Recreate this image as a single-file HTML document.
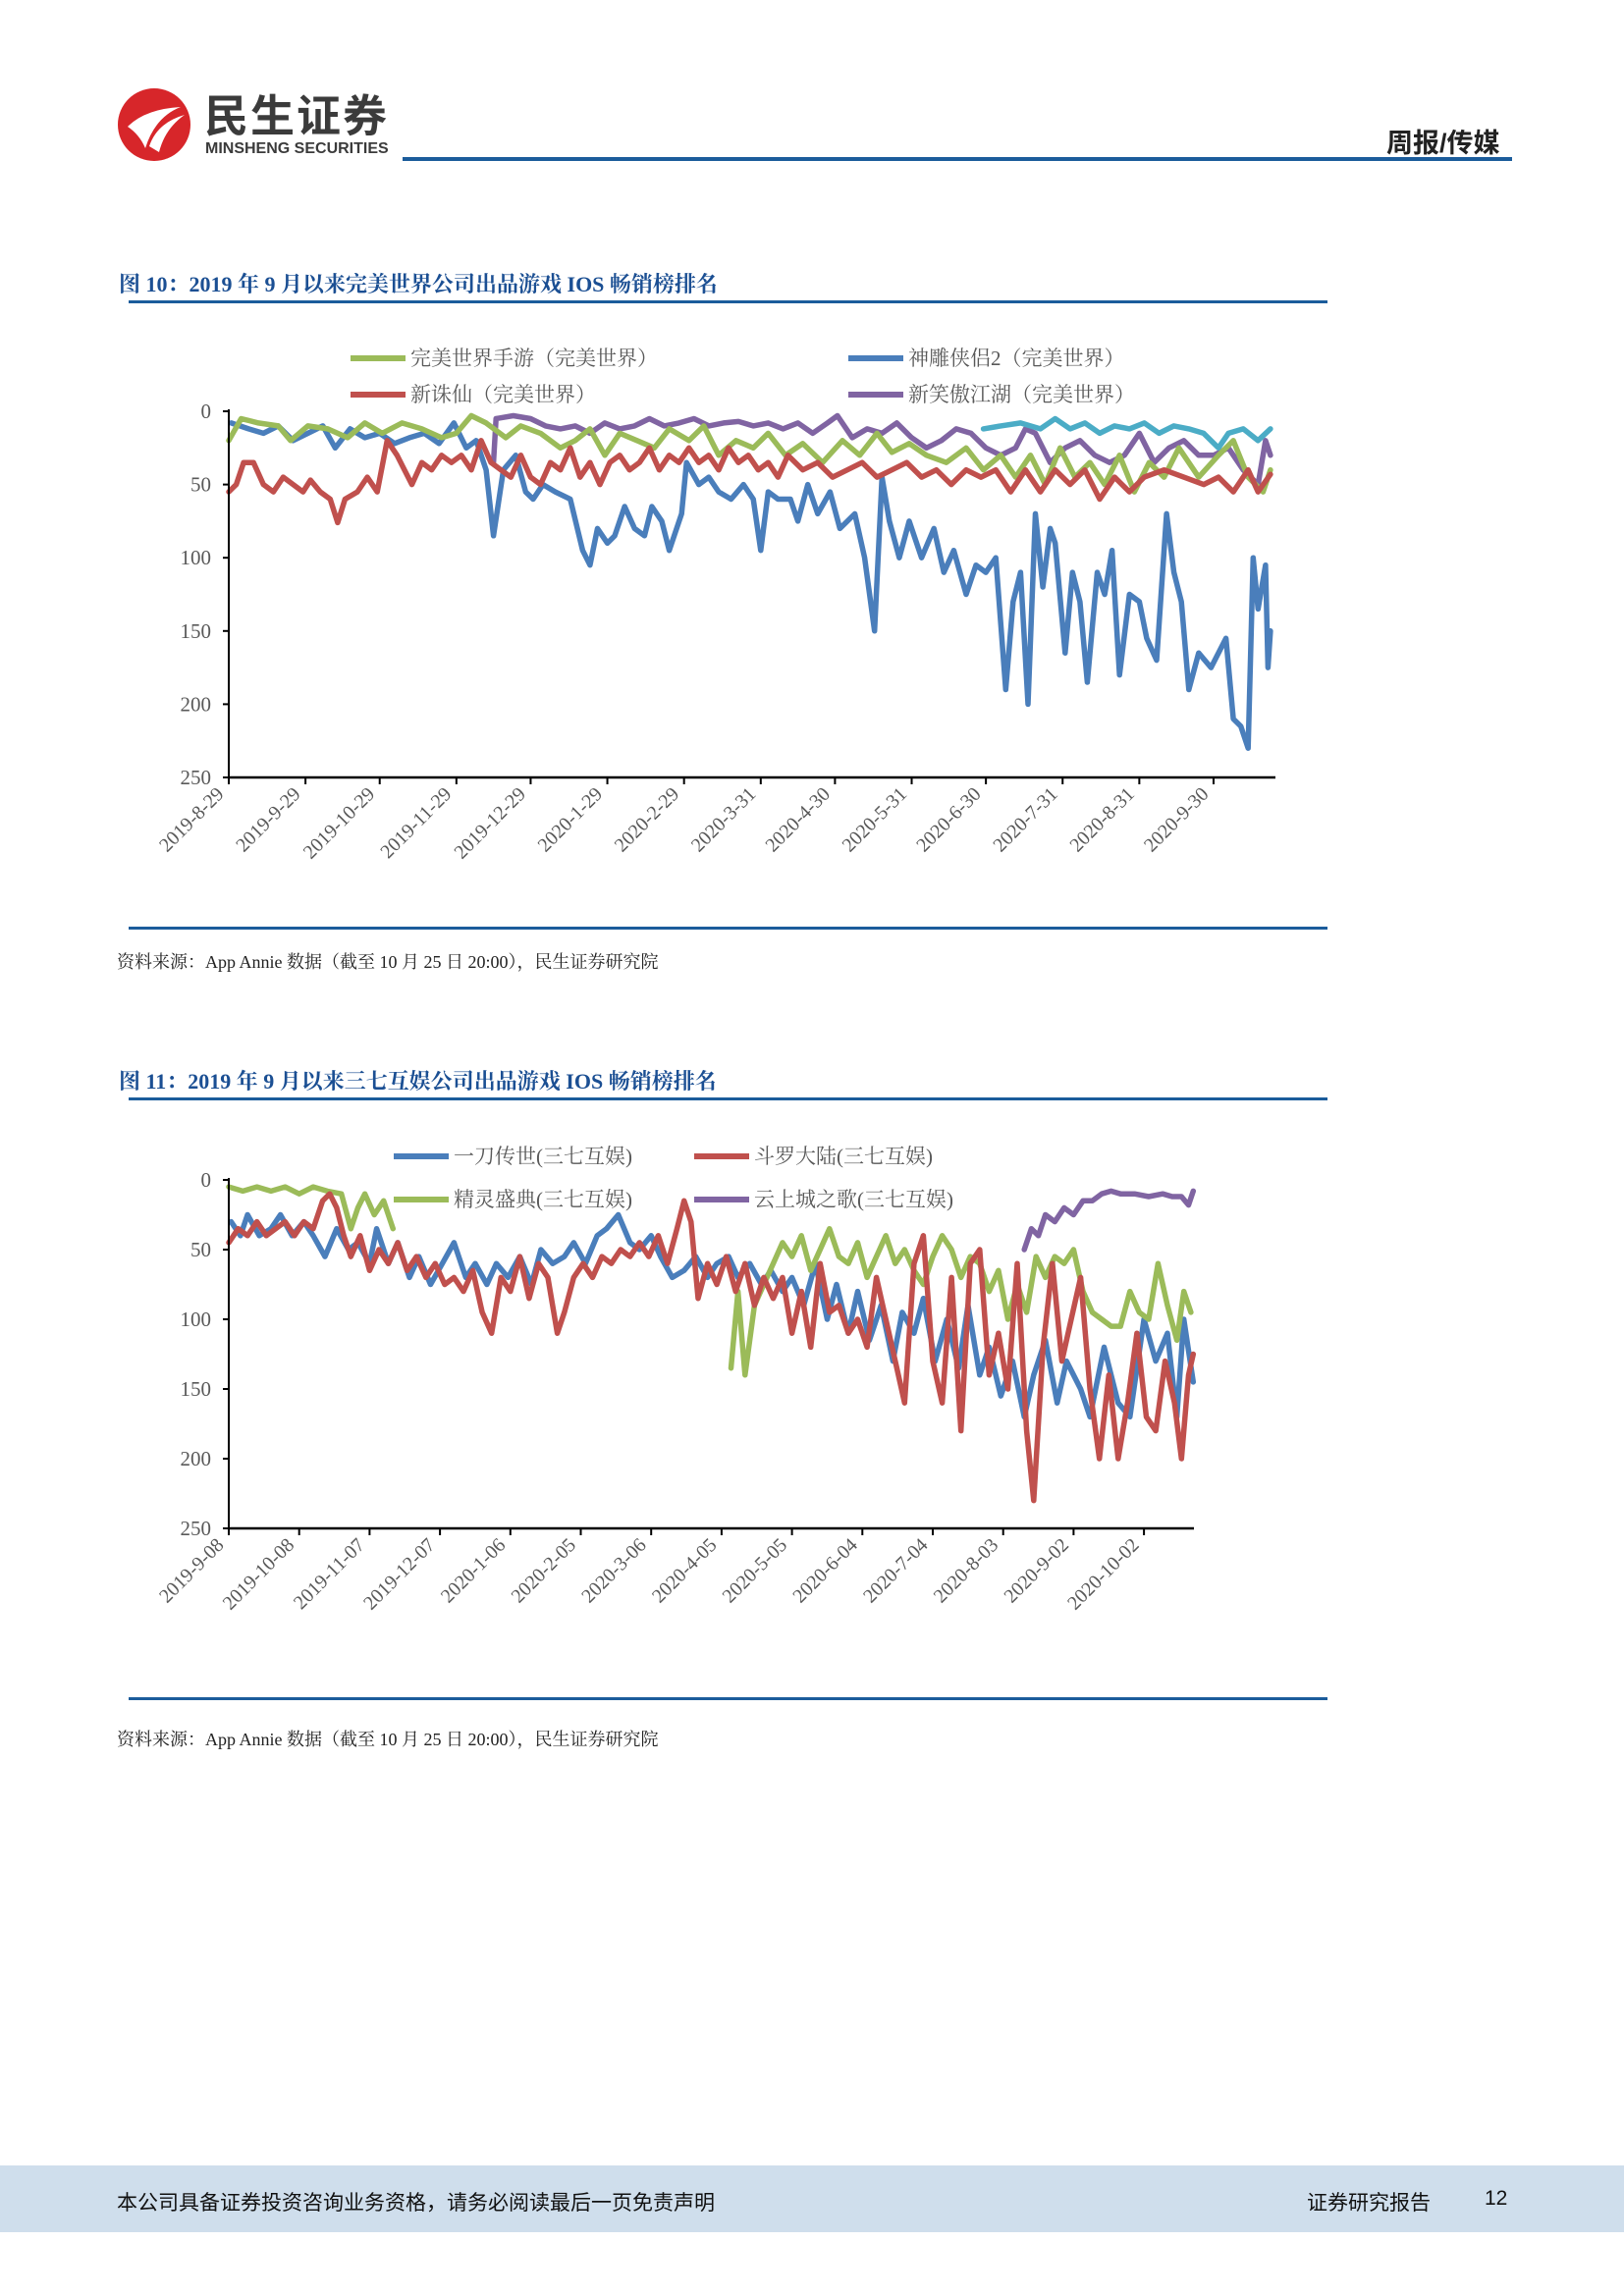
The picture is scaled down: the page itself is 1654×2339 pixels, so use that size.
<!DOCTYPE html>
<html><head><meta charset="utf-8">
<style>
html,body{margin:0;padding:0;background:#fff;}
body{width:1654px;height:2339px;position:relative;overflow:hidden;font-family:"Liberation Serif","Noto Serif CJK SC",serif;}
.abs{position:absolute;}
.title{position:absolute;left:121px;font-weight:bold;color:#1b4f93;font-size:22px;white-space:nowrap;}
.src{position:absolute;left:119px;font-size:18px;color:#222;white-space:nowrap;}
.hline{position:absolute;background:#1b5c9b;}
</style></head>
<body>
<div class="abs" style="left:0;top:0;width:1654px;height:170px;">
  <svg class="abs" style="left:118px;top:89px" width="80" height="80">
    <circle cx="39" cy="38" r="37" fill="#d7262a"/>
    <path d="M12 40 Q30 22 66 20 Q40 30 30 62 Q24 48 12 40Z" fill="#fff"/>
    <path d="M34 60 Q42 36 70 28 Q50 42 44 66Z" fill="#fff"/>
  </svg>
  <div class="abs" style="left:208px;top:96px;line-height:1;font-family:'Liberation Sans','Noto Sans CJK SC',sans-serif;font-weight:bold;font-size:45px;color:#3b3b3b;letter-spacing:2px;">民生证券</div>
  <div class="abs" style="left:209px;top:144px;line-height:1;font-family:'Liberation Sans',sans-serif;font-weight:bold;font-size:16px;color:#3b3b3b;">MINSHENG SECURITIES</div>
  <div class="hline" style="left:410px;top:160px;width:1130px;height:4px;"></div>
  <div class="abs" style="left:1412px;top:124px;font-family:'Liberation Sans','Noto Sans CJK SC',sans-serif;font-weight:bold;font-size:27px;color:#222;">周报/传媒</div>
</div>

<div class="title" style="top:273px;">图 10：2019 年 9 月以来完美世界公司出品游戏 IOS 畅销榜排名</div>
<div class="hline" style="left:131px;top:306px;width:1221px;height:3px;"></div>
<svg id="c1" class="abs" style="left:0;top:320px" width="1654" height="620"></svg>
<div class="hline" style="left:131px;top:944px;width:1221px;height:3px;"></div>
<div class="src" style="top:966px;">资料来源：App Annie 数据（截至 10 月 25 日 20:00），民生证券研究院</div>

<div class="title" style="top:1085px;">图 11：2019 年 9 月以来三七互娱公司出品游戏 IOS 畅销榜排名</div>
<div class="hline" style="left:131px;top:1118px;width:1221px;height:3px;"></div>
<svg id="c2" class="abs" style="left:0;top:1140px" width="1654" height="590"></svg>
<div class="hline" style="left:131px;top:1729px;width:1221px;height:3px;"></div>
<div class="src" style="top:1758px;">资料来源：App Annie 数据（截至 10 月 25 日 20:00），民生证券研究院</div>

<div class="abs" style="left:0;top:2206px;width:1654px;height:68px;background:#cfdeec;font-family:'Liberation Sans','Noto Sans CJK SC',sans-serif;font-size:21px;color:#111;">
  <div class="abs" style="left:119px;top:22px;">本公司具备证券投资咨询业务资格，请务必阅读最后一页免责声明</div>
  <div class="abs" style="left:1331px;top:22px;">证券研究报告</div>
  <div class="abs" style="left:1512px;top:22px;">12</div>
</div>

<script>
// ---------- Chart 1 data (day offset from 2019-8-29, rank) ----------
const c1Ticks = ["2019-8-29","2019-9-29","2019-10-29","2019-11-29","2019-12-29","2020-1-29","2020-2-29","2020-3-31","2020-4-30","2020-5-31","2020-6-30","2020-7-31","2020-8-31","2020-9-30"];
const c1YTicks = [0,50,100,150,200,250];
const c1GreenDays = [0,5,12,20,25,32,40,48,55,62,70,78,86,92,98,104,112,118,126,134,140,146,152,158,165,172,178,186,192,198,205,212,218,225,232,240,248,255,262,268,275,282,290,298,305,312,318,324,330,336,342,348,354,360,366,372,378,384,392,400,406,412,418,421];
const c1GreenVals = [20,5,8,10,20,10,12,18,8,15,8,12,18,15,3,8,18,10,15,25,20,12,30,15,20,25,12,20,10,30,20,25,15,30,22,35,20,30,15,28,22,30,35,25,40,30,45,30,50,25,45,35,50,30,55,35,45,25,45,30,20,45,55,40];
const c1BlueDays = [1,8,14,20,26,32,38,43,49,55,61,67,73,79,85,91,96,100,104,107,111,116,120,123,127,132,138,143,146,149,153,156,160,164,168,171,175,178,183,185,190,194,198,203,208,212,215,218,222,227,230,234,238,243,247,253,257,261,264,267,271,275,280,285,289,293,298,302,306,310,314,317,320,323,326,329,332,334,338,341,344,347,351,354,357,360,364,368,371,375,379,382,385,388,392,397,403,406,409,412,414,416,419,420,421];
const c1BlueVals = [8,12,15,10,20,15,10,25,12,18,15,22,18,15,22,8,25,20,40,85,40,30,55,60,50,55,60,95,105,80,90,85,65,80,85,65,75,95,70,35,50,45,55,60,50,60,95,55,60,60,75,50,70,55,80,70,100,150,45,75,100,75,100,80,110,95,125,105,110,100,190,130,110,200,70,120,80,90,165,110,130,185,110,125,95,180,125,130,155,170,70,110,130,190,165,175,155,210,215,230,100,135,105,175,150];
const c1RedDays = [0,3,6,10,14,18,22,26,30,33,37,41,44,47,52,56,60,64,68,71,74,78,82,86,90,94,98,102,106,110,114,118,122,126,130,134,138,142,146,150,154,158,162,166,170,174,178,182,186,190,194,198,202,206,210,214,218,222,226,232,238,244,250,256,262,268,274,280,286,292,298,304,310,316,322,328,334,340,346,352,358,364,370,378,386,394,400,406,412,416,421];
const c1RedVals = [55,50,35,35,50,55,45,50,55,47,55,60,76,60,55,45,55,20,30,40,50,35,40,30,35,30,40,20,35,40,45,30,45,50,35,40,25,45,35,50,35,30,40,35,25,40,30,35,25,35,30,40,25,35,30,40,35,45,30,40,35,45,40,35,45,40,35,45,40,50,40,45,40,55,40,55,40,50,40,60,45,55,45,40,45,50,45,55,40,55,43];
const c1PurpleDays = [107,108,115,122,128,134,140,146,152,158,164,170,176,182,188,194,200,206,212,218,224,230,236,242,246,252,258,264,270,276,282,288,294,300,306,312,318,322,326,332,338,344,350,356,362,368,374,380,386,392,398,404,410,416,419,421];
const c1PurpleVals = [35,5,3,5,10,12,10,15,8,12,10,5,10,8,5,10,8,7,10,8,12,8,15,8,3,18,12,15,8,18,25,20,12,15,25,30,25,12,15,35,25,20,30,35,30,15,35,25,20,30,30,25,40,50,20,30];
const c1TealDays = [305,312,320,328,334,340,346,352,358,364,370,376,382,388,394,400,404,410,416,421];
const c1TealVals = [12,10,8,12,5,12,8,15,10,12,8,15,10,12,15,25,15,12,20,12];

// ---------- Chart 2 data (day offset from 2019-9-08, rank) ----------
const c2Ticks = ["2019-9-08","2019-10-08","2019-11-07","2019-12-07","2020-1-06","2020-2-05","2020-3-06","2020-4-05","2020-5-05","2020-6-04","2020-7-04","2020-8-03","2020-9-02","2020-10-02"];
const c2YTicks = [0,50,100,150,200,250];
const c2BlueDays = [1,5,8,13,18,22,27,32,36,41,46,51,55,60,63,68,72,77,81,86,91,96,101,105,110,114,119,124,129,133,138,143,147,152,157,161,166,171,175,180,184,189,194,199,204,208,213,217,222,227,231,236,240,245,250,255,259,264,268,273,278,283,287,292,296,301,306,311,315,320,324,329,334,339,343,348,353,357,363,367,373,379,384,390,395,400,404,407,411];
const c2BlueVals = [30,40,25,40,35,25,40,30,40,55,35,50,45,60,35,60,45,70,55,75,60,45,70,60,75,60,70,55,75,50,60,55,45,60,40,35,25,45,50,40,55,70,65,55,70,60,55,70,60,75,65,80,70,90,60,100,75,110,80,115,90,130,95,110,85,130,100,135,90,140,120,155,130,170,140,115,160,130,150,170,120,160,170,100,130,110,170,100,145];
const c2RedDays = [0,4,8,12,16,20,24,28,32,36,40,43,46,49,52,56,60,64,68,72,76,80,84,88,92,96,100,104,108,112,116,120,124,128,132,136,140,143,147,151,155,159,163,167,171,175,179,183,187,191,194,197,200,204,208,212,216,220,224,228,232,236,240,244,248,252,256,260,264,268,272,276,280,284,288,292,296,300,304,308,312,316,320,324,328,332,336,340,343,347,351,355,359,363,367,371,375,379,383,387,391,395,399,403,406,409,411];
const c2RedVals = [45,35,40,30,40,35,30,40,30,35,15,10,20,40,55,40,65,50,60,45,65,55,70,60,75,70,80,65,95,110,70,80,55,85,60,70,110,95,70,60,70,55,60,50,55,45,55,40,60,35,15,30,85,60,75,55,80,60,90,70,85,70,110,80,120,60,95,90,110,100,120,70,100,130,160,60,40,130,160,70,180,60,50,140,110,150,60,180,230,120,60,130,100,70,150,200,140,200,160,110,170,180,130,160,200,140,125];
const c2GreenDays = [0,6,12,18,24,30,36,42,48,52,55,58,62,66,70,71,214,217,220,224,228,232,236,240,244,248,252,256,260,264,268,272,276,280,284,288,292,296,300,304,308,312,316,320,324,328,332,336,340,344,348,352,356,360,364,368,372,376,380,384,388,392,396,400,404,407,410];
const c2GreenVals = [5,8,5,8,5,10,5,8,10,35,20,10,25,15,35,null,135,80,140,90,75,60,45,55,40,65,50,35,55,60,45,70,55,40,60,50,65,75,55,40,50,70,55,60,80,65,100,75,95,55,70,55,60,50,80,95,100,105,105,80,95,100,60,90,115,80,95];
const c2PurpleDays = [339,342,345,348,352,356,360,364,368,372,376,380,386,392,398,402,406,409,411];
const c2PurpleVals = [50,35,40,25,30,20,25,15,15,10,8,10,10,12,10,12,12,18,8];

const NS = "http://www.w3.org/2000/svg";
function mk(parent, tag, attrs){ const e=document.createElementNS(NS,tag); for(const k in attrs) e.setAttribute(k,attrs[k]); parent.appendChild(e); return e; }
function dayDiff(a,b){ const p=s=>{const t=s.split('-').map(Number); return Date.UTC(t[0],t[1]-1,t[2]);}; return Math.round((p(b)-p(a))/86400000); }

function drawChart(svg, cfg){
  const xS = d => cfg.x0 + d*cfg.pxDay;
  const yS = v => cfg.y0 + (v/250)*(cfg.y1-cfg.y0);
  cfg.yTicks.forEach(v=>{
    const t=mk(svg,'text',{x:cfg.x0-18,y:yS(v)+7,'text-anchor':'end','font-size':21,fill:'#595959','font-family':'Liberation Serif, serif'});
    
    
    t.textContent=v;
    const tk=mk(svg,'line',{x1:cfg.x0-6,x2:cfg.x0,y1:yS(v),y2:yS(v),stroke:'#000','stroke-width':2});
    
    
  });
  cfg.series.forEach(s=>{
    let d='', pen=false;
    s.days.forEach((dd,i)=>{
      const v=s.vals[i];
      if(v===null||v===undefined){pen=false;return;}
      d += (pen?'L':'M') + xS(dd).toFixed(1)+' '+yS(v).toFixed(1)+' ';
      pen=true;
    });
    const p=mk(svg,'path',{d:d,fill:'none',stroke:s.color,'stroke-width':5.5,'stroke-linejoin':'round','stroke-linecap':'round'});
    
    
  });
  const ya=mk(svg,'line',{x1:cfg.x0,x2:cfg.x0,y1:cfg.y0-2,y2:cfg.y1,stroke:'#000','stroke-width':2});
  
  
  const xa=mk(svg,'line',{x1:cfg.x0,x2:cfg.xEnd,y1:cfg.y1,y2:cfg.y1,stroke:'#000','stroke-width':2.5});
  
  
  cfg.ticks.forEach(lbl=>{
    const x=xS(dayDiff(cfg.ticks[0],lbl));
    const tk=mk(svg,'line',{x1:x,x2:x,y1:cfg.y1,y2:cfg.y1+7,stroke:'#000','stroke-width':2});
    
    
    const t=mk(svg,'text',{x:x-4,y:cfg.y1+18,'text-anchor':'end','font-size':20,fill:'#595959','font-family':'Liberation Serif, serif',transform:`rotate(-45 ${x-4} ${cfg.y1+18})`});
    
    
    t.textContent=lbl;
  });
  cfg.legend.forEach(l=>{
    const g=mk(svg,'g',{});
    
    
    mk(g,'line',{x1:l.x,x2:l.x+56,y1:l.y,y2:l.y,stroke:l.color,'stroke-width':6});
    const t=mk(g,'text',{x:l.x+61,y:l.y+7,'font-size':21,fill:'#595959','font-family':'Liberation Serif, Noto Serif CJK SC, serif'});
    t.textContent=l.text;
  });
}

const G='#9bbb59',B='#4a7ebb',R='#c0504d',P='#8064a2',T='#4bacc6';
drawChart(document.getElementById('c1'),{
  x0:233, xEnd:1299, pxDay:2.52, y0:419-320, y1:792-320, yTicks:c1YTicks, ticks:c1Ticks,
  series:[
    {name:'series-xinxiaoao',days:c1PurpleDays,vals:c1PurpleVals,color:P},
    {name:'series-teal',days:c1TealDays,vals:c1TealVals,color:T},
    {name:'series-shendiao2',days:c1BlueDays,vals:c1BlueVals,color:B},
    {name:'series-wanmei-mobile',days:c1GreenDays,vals:c1GreenVals,color:G},
    {name:'series-xinzhuxian',days:c1RedDays,vals:c1RedVals,color:R}
  ],
  legend:[
    {x:357,y:365-320,color:G,text:'完美世界手游（完美世界）'},
    {x:864,y:365-320,color:B,text:'神雕侠侣2（完美世界）'},
    {x:357,y:402-320,color:R,text:'新诛仙（完美世界）'},
    {x:864,y:402-320,color:P,text:'新笑傲江湖（完美世界）'}
  ]
});
drawChart(document.getElementById('c2'),{
  x0:233, xEnd:1216, pxDay:2.39, y0:1202-1140, y1:1557-1140, yTicks:c2YTicks, ticks:c2Ticks,
  series:[
    {name:'series-yidao',days:c2BlueDays,vals:c2BlueVals,color:B},
    {name:'series-jingling',days:c2GreenDays,vals:c2GreenVals,color:G},
    {name:'series-douluo',days:c2RedDays,vals:c2RedVals,color:R},
    {name:'series-yunshang',days:c2PurpleDays,vals:c2PurpleVals,color:P}
  ],
  legend:[
    {x:401,y:1178-1140,color:B,text:'一刀传世(三七互娱)'},
    {x:707,y:1178-1140,color:R,text:'斗罗大陆(三七互娱)'},
    {x:401,y:1222-1140,color:G,text:'精灵盛典(三七互娱)'},
    {x:707,y:1222-1140,color:P,text:'云上城之歌(三七互娱)'}
  ]
});
</script>
</body></html>
